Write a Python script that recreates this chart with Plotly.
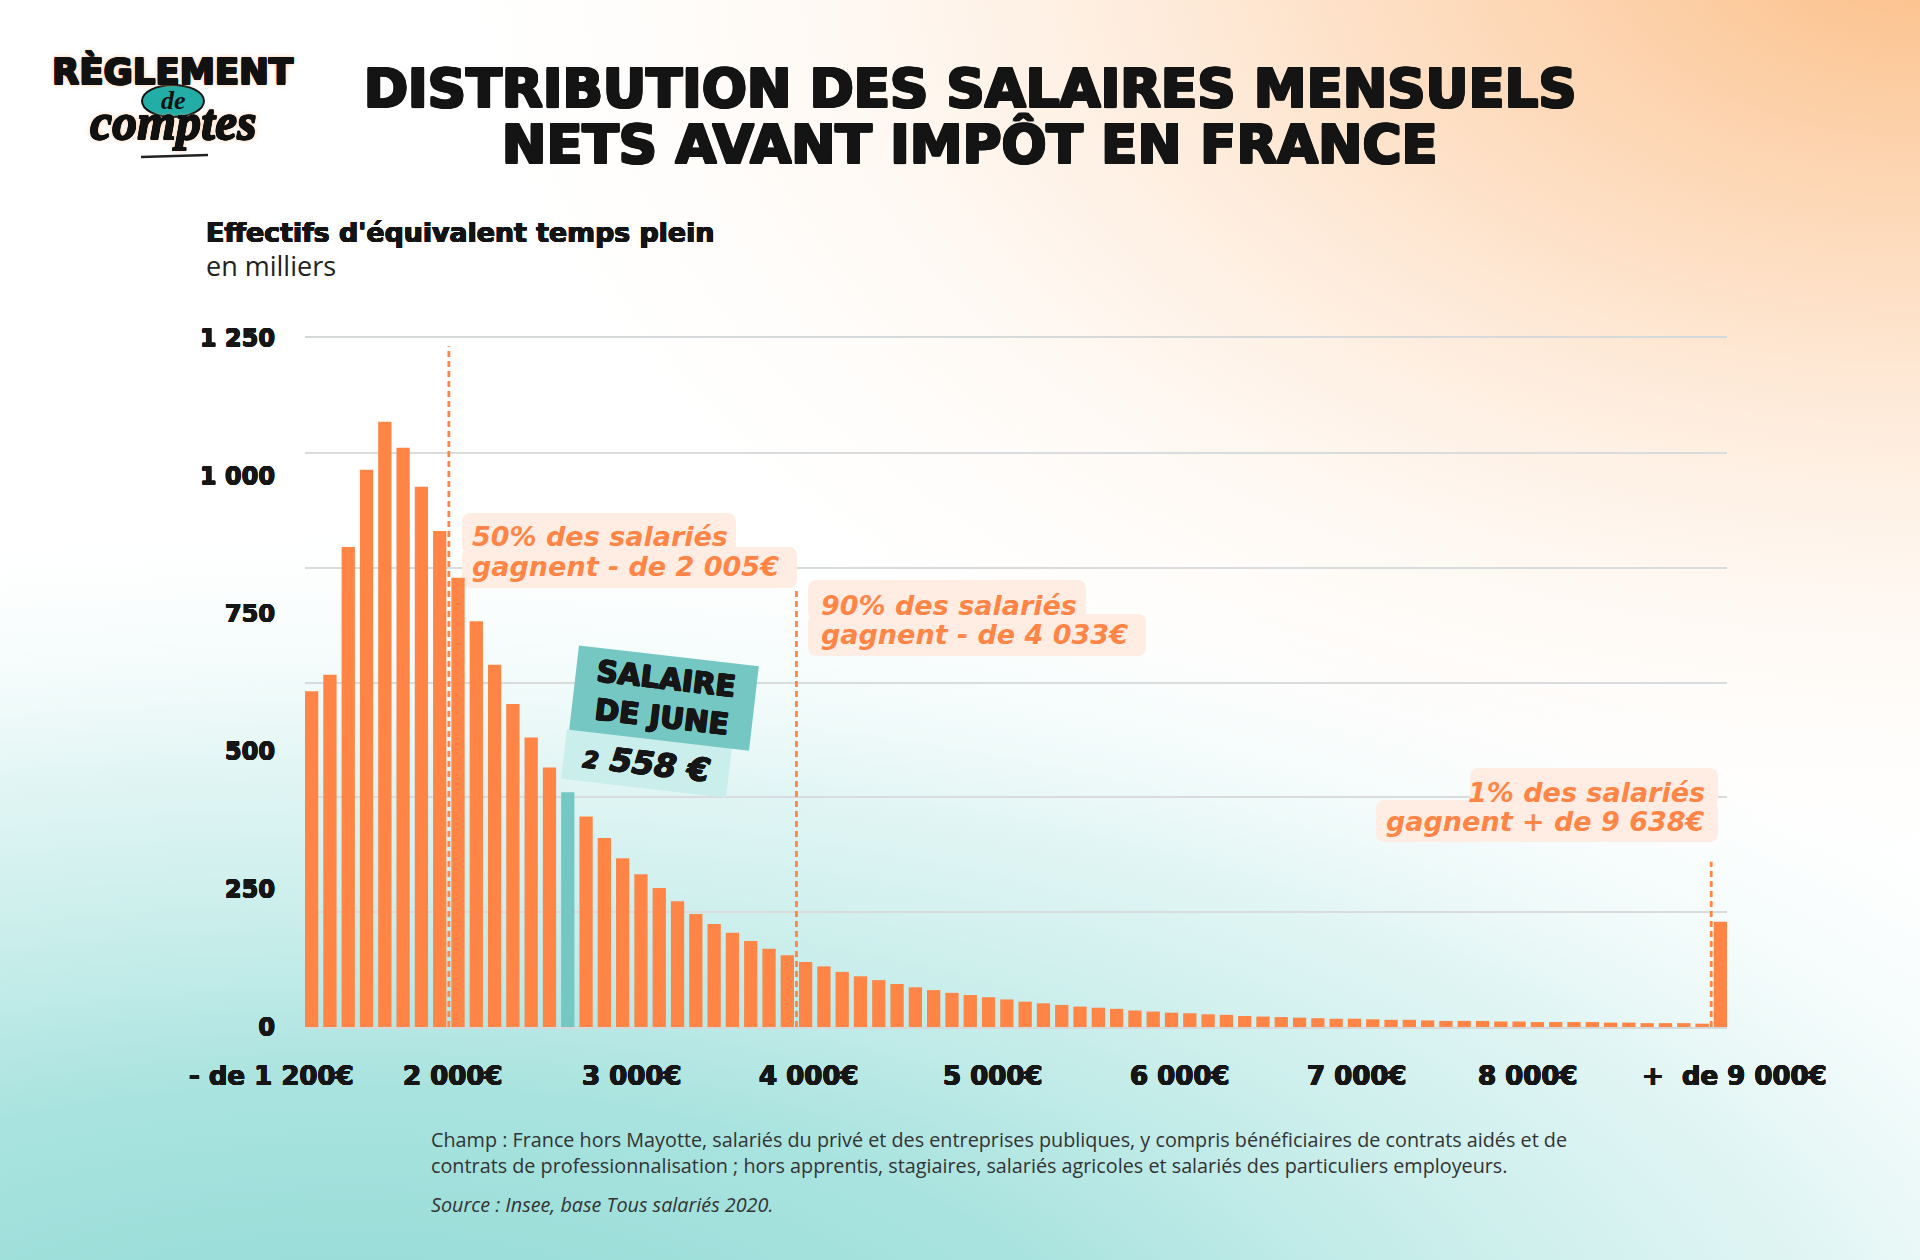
import base64
import plotly.graph_objects as go

# ---------------- data ----------------
categories = (["- de 1 200€"]
              + [f"{1200 + 100 * k} à {1300 + 100 * k}€" for k in range(76)]
              + ["+ de 9 000€"])

values = [609, 639, 871, 1011, 1098, 1051, 980, 900, 815, 736,
          657, 586, 525, 471, 426, 382, 343, 306, 277, 252,
          228, 205, 187, 171, 156, 142, 130, 118, 110, 100,
          92, 85, 78, 72, 67, 62, 58, 54, 50, 46,
          43, 40, 37, 35, 33, 30, 28, 26, 25, 23,
          22, 20, 19, 18, 17, 16, 15, 15, 14, 13,
          13, 12, 11, 11, 11, 10, 10, 9, 9, 9,
          9, 8, 8, 7, 7, 7, 6, 191]

june_bin = 14
june_title = "SALAIRE<br>DE JUNE"
june_salary = "2 558 €"

x_tick_labels = ["- de 1 200€", "2 000€", "3 000€", "4 000€", "5 000€",
                 "6 000€", "7 000€", "8 000€", "+\u00a0 de 9 000€"]
y_tick_values = [0, 250, 500, 750, 1000, 1250]
y_tick_text = ["0", "250", "500", "750", "1 000", "1 250"]

threshold_lines = ["50% des salariés", "gagnent - de 2 005€",
                   "90% des salariés", "gagnent - de 4 033€",
                   "1% des salariés", "gagnent + de 9 638€"]

# ---------------- layout geometry (pixels) ----------------
W_FIG, H_FIG = 1920, 1260
L, R, T, B = 305, 1727, 338, 1027
GAP = 0.273
XMIN, XMAX = -0.5 + GAP / 2, len(values) - 0.5 - GAP / 2
PITCH = (R - L) / (XMAX - XMIN)

x_label_pos = [-2.18, 7.73, 17.51, 27.18, 37.24, 47.46, 57.14, 66.48, 77.77]
marker_x = [7.5, 26.5, 76.5]
marker_top = [1235, 797, 300]


def pxp(x):
    return (x - L) / (R - L)


def pyp(y):
    return (B - y) / (B - T)


def dx(p):
    return (p - L) / PITCH + XMIN


def dy(p):
    return (B - p) * 1250 / (B - T)


def x2px(v):
    return L + (v - XMIN) * PITCH


ORANGE = "#FF8547"
TEAL = "#74C7C2"
DARK = "#161616"


def heavy(c, w=1):
    return (f"{w}px 0 0 {c}, -{w}px 0 0 {c}, 0 {w}px 0 {c}, 0 -{w}px 0 {c}, "
            f"{w}px {w}px 0 {c}, -{w}px -{w}px 0 {c}, {w}px -{w}px 0 {c}, -{w}px {w}px 0 {c}")


colors = [TEAL if i == june_bin else ORANGE for i in range(len(values))]

fig = go.Figure(go.Bar(
    x=list(range(len(values))), y=values, hovertext=categories,
    marker=dict(color=colors, line=dict(width=0)),
))

# background gradient
svg = f"""<svg xmlns='http://www.w3.org/2000/svg' width='{W_FIG}' height='{H_FIG}' viewBox='0 0 {W_FIG} {H_FIG}' preserveAspectRatio='none'>
<defs>
<radialGradient id='o' gradientUnits='userSpaceOnUse' cx='0' cy='0' r='1' gradientTransform='translate(1920 -60) scale(1550 960)'>
<stop offset='0' stop-color='#FBBD84'/>
<stop offset='0.35' stop-color='#FDD3AE' stop-opacity='0.75'/>
<stop offset='1' stop-color='#FFFFFF' stop-opacity='0'/>
</radialGradient>
<radialGradient id='t' gradientUnits='userSpaceOnUse' cx='0' cy='0' r='1' gradientTransform='translate(350 1400) scale(2150 900)'>
<stop offset='0' stop-color='#8FDAD4'/>
<stop offset='0.35' stop-color='#A9E3DF'/>
<stop offset='0.7' stop-color='#D3F1EF' stop-opacity='0.7'/>
<stop offset='1' stop-color='#FFFFFF' stop-opacity='0'/>
</radialGradient>
</defs>
<rect width='{W_FIG}' height='{H_FIG}' fill='#FFFFFF'/>
<rect width='{W_FIG}' height='{H_FIG}' fill='url(#t)'/>
<rect width='{W_FIG}' height='{H_FIG}' fill='url(#o)'/>
</svg>"""
uri = "data:image/svg+xml;base64," + base64.b64encode(svg.encode()).decode()

fig.update_layout(
    width=W_FIG, height=H_FIG,
    margin=dict(l=L, r=W_FIG - R, t=T, b=H_FIG - B, pad=0),
    paper_bgcolor="white", plot_bgcolor="rgba(0,0,0,0)",
    bargap=GAP, showlegend=False,
    images=[dict(source=uri, xref="paper", yref="paper", x=pxp(0), y=pyp(0),
                 sizex=W_FIG / (R - L), sizey=H_FIG / (B - T),
                 xanchor="left", yanchor="top", sizing="stretch", layer="below")],
    xaxis=dict(range=[XMIN, XMAX], showgrid=False, zeroline=False,
               showticklabels=False, ticks="", showline=True, mirror=True,
               linecolor="#d5d9da", linewidth=1.5),
    yaxis=dict(range=[0, 1250], tickmode="array", tickvals=y_tick_values,
               ticktext=y_tick_text, showgrid=False, zeroline=False, ticks="",
               ticklabelstandoff=29,
               tickfont=dict(family="DejaVu Sans", size=24, weight="bold", color=DARK,
                             shadow=heavy(DARK, 0.4)),
               minor=dict(tickmode="array",
                          tickvals=[1250 * k / 6 for k in range(1, 6)],
                          showgrid=True, gridcolor="#d9dbdc", gridwidth=1.5, ticks="")),
)


def ann(text, x, y, size, color=DARK, family="DejaVu Sans", weight="bold",
        style="normal", xanchor="center", yanchor="middle", shadow="none", **kw):
    fig.add_annotation(text=text, xref="paper", yref="paper", x=pxp(x), y=pyp(y),
                       showarrow=False, xanchor=xanchor, yanchor=yanchor,
                       font=dict(family=family, size=size, color=color,
                                 weight=weight, style=style, shadow=shadow), **kw)


def rrect(x0, y0, x1, y1, r):
    pts = [("M", x0 + r, y0), ("L", x1 - r, y0), ("Q", x1, y0, x1, y0 + r),
           ("L", x1, y1 - r), ("Q", x1, y1, x1 - r, y1), ("L", x0 + r, y1),
           ("Q", x0, y1, x0, y1 - r), ("L", x0, y0 + r), ("Q", x0, y0, x0 + r, y0)]
    s = ""
    for p in pts:
        cmd, coords = p[0], p[1:]
        c = " ".join(f"{dx(coords[i]):.4f},{dy(coords[i + 1]):.3f}" for i in range(0, len(coords), 2))
        s += f"{cmd} {c} "
    return s + "Z"


BOX = "#FFEDE3"
boxes = [(462, 513, 736, 553), (462, 547, 797, 588),
         (808, 580, 1086, 620), (808, 614, 1146, 656),
         (1470, 768, 1718, 807), (1376, 800, 1718, 842)]
for b in boxes:
    fig.add_shape(type="path", path=rrect(*b, 9), xref="x", yref="y",
                  fillcolor=BOX, line=dict(width=0), layer="between")

# dashed threshold lines
for xv, yt in zip(marker_x, marker_top):
    fig.add_shape(type="line", xref="x", yref="y", x0=xv, x1=xv, y0=0, y1=yt,
                  line=dict(color=ORANGE, width=2.8, dash="6px,4px"), layer="above")

# threshold texts
ann(threshold_lines[0], 470, 536, 27, ORANGE, style="italic", xanchor="left")
ann(threshold_lines[1], 470, 566, 27, ORANGE, style="italic", xanchor="left")
ann(threshold_lines[2], 819, 605, 27, ORANGE, style="italic", xanchor="left")
ann(threshold_lines[3], 819, 634, 27, ORANGE, style="italic", xanchor="left")
ann(threshold_lines[4], 1707, 792, 27, ORANGE, style="italic", xanchor="right")
ann(threshold_lines[5], 1707, 821, 27, ORANGE, style="italic", xanchor="right")

# June tag
ann("<span style='font-size:23px'>2</span> " + june_salary.split(" ", 1)[1],
    646.5, 763, 32, DARK, style="italic", bgcolor="#C9EEEC", width=165, height=49,
    borderpad=0, textangle=6.6, shadow=heavy(DARK, 0.5))
ann(june_title, 663.7, 698, 29.5, DARK, bgcolor=TEAL, width=180, height=84,
    borderpad=0, textangle=6.6, shadow=heavy(DARK, 0.6))

# x labels (positions in axis units, drawn in paper space so the outer ones show)
for lab, pos in zip(x_tick_labels, x_label_pos):
    ann(lab, x2px(pos), 1076, 26, DARK, shadow=heavy(DARK, 0.4))

# titles
ann("DISTRIBUTION DES SALAIRES MENSUELS", 970, 89, 53, "#141414", shadow=heavy("#141414", 1.2))
ann("NETS AVANT IMPÔT EN FRANCE", 970, 144.5, 53, "#141414", shadow=heavy("#141414", 1.2))
ann("Effectifs d'équivalent temps plein", 204, 232, 26.8, "#141414", xanchor="left",
    shadow=heavy("#141414", 0.4))
ann("en milliers", 204, 265, 27, "#222222", family="Open Sans", weight="normal", xanchor="left")

# logo
fig.add_shape(type="circle", xref="paper", yref="paper", x0=pxp(142), x1=pxp(204),
              y0=pyp(117), y1=pyp(85), fillcolor="#22ADA6", line=dict(color="#111", width=2),
              layer="above")
ann("RÈGLEMENT", 173, 71, 35.5, "#111111",
    shadow=heavy("#111111", 0.8) + ", 0 0 5px rgba(255,170,110,0.9)")
ann("de", 173, 100, 26, "#111111", family="Liberation Serif", style="italic")
ann("comptes", 173, 122, 50, "#111111", family="Liberation Serif", style="italic",
    shadow=heavy("#111111", 0.6) + ", 0 0 5px rgba(255,170,110,0.9)")
fig.add_shape(type="line", xref="paper", yref="paper", x0=pxp(141), x1=pxp(208),
              y0=pyp(157), y1=pyp(155), line=dict(color="#222", width=2.5), layer="above")

# footer
FOOT = "#333333"
ann("Champ : France hors Mayotte, salariés du privé et des entreprises publiques, y compris bénéficiaires de contrats aidés et de",
    429, 1139, 19.8, FOOT, family="Open Sans", weight="normal", xanchor="left")
ann("contrats de professionnalisation ; hors apprentis, stagiaires, salariés agricoles et salariés des particuliers employeurs.",
    429, 1165, 19.8, FOOT, family="Open Sans", weight="normal", xanchor="left")
ann("Source : Insee, base Tous salariés 2020.", 429, 1204, 19.8, FOOT,
    family="Open Sans", weight="normal", style="italic", xanchor="left")

fig.write_html("out.html", config={"displayModeBar": False},
               post_script="document.body.style.margin='0px';")
